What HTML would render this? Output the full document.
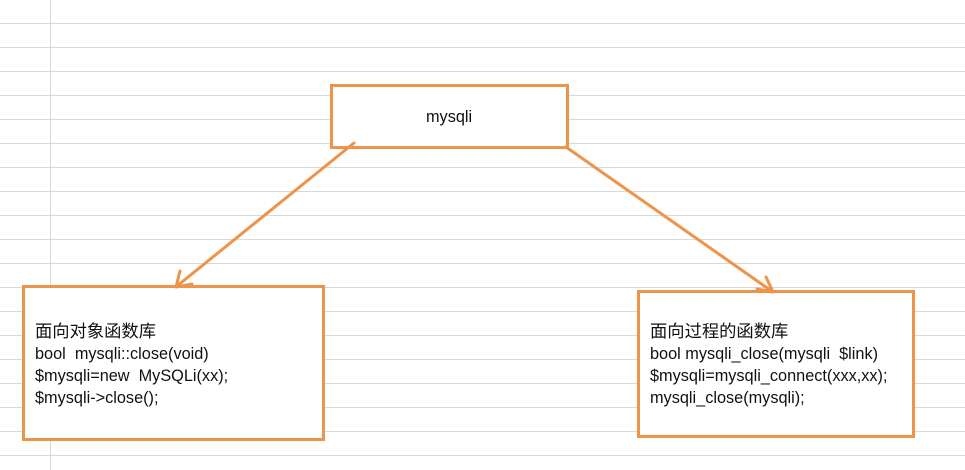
<!DOCTYPE html>
<html><head><meta charset="utf-8"><style>
body{margin:0;width:965px;height:470px;overflow:hidden;background:#fff;}
svg{position:absolute;left:0;top:0}
.t{position:absolute;font-family:"Liberation Sans","Noto Sans CJK SC",sans-serif;font-size:16.3px;color:#111;line-height:22px;white-space:pre}
.c{font-size:17.3px}
</style></head><body>
<svg width="965" height="470">
<g stroke="#d9d9d9" stroke-width="1">
<line x1="50.5" y1="0" x2="50.5" y2="470"/>
<line x1="0" y1="23.5" x2="965" y2="23.5"/><line x1="0" y1="47.5" x2="965" y2="47.5"/>
<line x1="0" y1="71.5" x2="965" y2="71.5"/><line x1="0" y1="95.5" x2="965" y2="95.5"/>
<line x1="0" y1="119.5" x2="965" y2="119.5"/><line x1="0" y1="143.5" x2="965" y2="143.5"/>
<line x1="0" y1="167.5" x2="965" y2="167.5"/><line x1="0" y1="191.5" x2="965" y2="191.5"/>
<line x1="0" y1="215.5" x2="965" y2="215.5"/><line x1="0" y1="239.5" x2="965" y2="239.5"/>
<line x1="0" y1="263.5" x2="965" y2="263.5"/><line x1="0" y1="287.5" x2="965" y2="287.5"/>
<line x1="0" y1="311.5" x2="965" y2="311.5"/><line x1="0" y1="335.5" x2="965" y2="335.5"/>
<line x1="0" y1="359.5" x2="965" y2="359.5"/><line x1="0" y1="383.5" x2="965" y2="383.5"/>
<line x1="0" y1="407.5" x2="965" y2="407.5"/><line x1="0" y1="431.5" x2="965" y2="431.5"/>
<line x1="0" y1="455.5" x2="965" y2="455.5"/>
</g>
<g fill="#fff" stroke="#ee934a" stroke-width="3">
<rect x="331.5" y="85.5" width="236" height="62"/>
<rect x="23.5" y="286.5" width="300" height="153"/>
<rect x="638.5" y="291.5" width="275" height="145"/>
</g>
<g stroke="#ee934a" stroke-width="3" fill="none" stroke-linecap="round" stroke-linejoin="round">
<line x1="354" y1="143" x2="177" y2="286"/>
<polyline points="180,271 176,287 192,284"/>
<line x1="566" y1="147" x2="773" y2="292"/>
<polyline points="757,289 773,292 766,277"/>
</g>
</svg>
<div class="t" style="left:426px;top:106px">mysqli</div>
<div class="t" style="left:35px;top:320px"><span class="c">面向对象函数库</span>
bool  mysqli::close(void)
$mysqli=new  MySQLi(xx);
$mysqli-&gt;close();</div>
<div class="t" style="left:650px;top:320px"><span class="c">面向过程的函数库</span>
bool mysqli_close(mysqli  $link)
$mysqli=mysqli_connect(xxx,xx);
mysqli_close(mysqli);</div>
</body></html>
